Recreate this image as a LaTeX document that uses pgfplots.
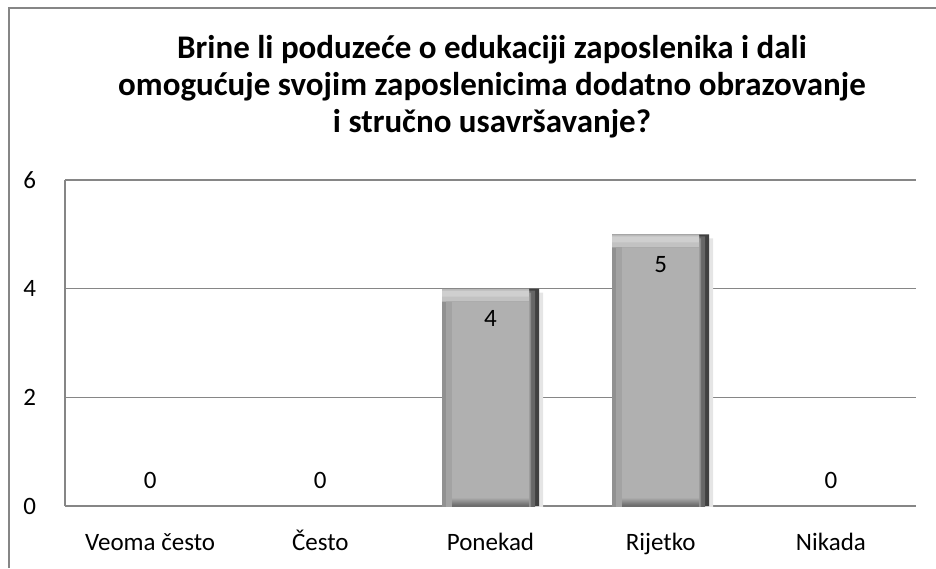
\documentclass[border=0pt]{standalone}
\usepackage{fontspec}
\setmainfont{Carlito}
\usepackage{pgfplots}
\pgfplotsset{compat=1.18}

\definecolor{gridgray}{RGB}{134,134,134}
\definecolor{barface}{RGB}{176,176,176}
\definecolor{bevbot}{RGB}{110,110,110}
\pgfdeclareverticalshading{facesh}{100bp}{color(0bp)=(bevbot); color(27.6bp)=(bevbot); color(29bp)=(barface); color(100bp)=(barface)}

\pgfplotstableread{
x y
2 4
3 5
}\bars
\pgfplotstableread{
x y
0 0
1 0
4 0
}\zeros

\begin{document}
\begin{tikzpicture}
\useasboundingbox (0,0) rectangle (468pt,-284pt);
\draw[gridgray, line width=0.9pt] (4.5pt,-284pt) -- (4.5pt,-4pt) -- (468pt,-4pt);
\node[font=\fontsize{16.5}{18.5}\selectfont\bfseries, align=center] at (246pt,-43.5pt)
  {Brine li poduzeće o edukaciji zaposlenika i dali\\
   omogućuje svojim zaposlenicima dodatno obrazovanje\\
   i stručno usavršavanje?};
\begin{axis}[
  at={(32.5pt,-253pt)}, anchor=south west,
  scale only axis, width=425.5pt, height=163pt,
  xmin=-0.5, xmax=4.5, ymin=0, ymax=6,
  xtick={0,1,2,3,4},
  xticklabels={Veoma često, Često, Ponekad, Rijetko, Nikada},
  ytick={0,2,4,6},
  axis x line*=bottom, axis y line*=left,
  axis line style={gridgray, line width=0.6pt, -},
  ymajorgrids, grid style={gridgray, line width=0.6pt},
  major tick length=0pt,
  ticklabel style={font=\fontsize{12.5}{14}\selectfont},
  yticklabel style={xshift=-11pt},
  xticklabel style={anchor=base, yshift=-22pt},
  /pgf/number format/assume math mode=true,
  ybar, bar width=48.5pt,
  every node near coord/.append style={font=\fontsize{12.5}{14}\selectfont, anchor=center, text=black},
]
% soft shadow
\addplot[fill=black!10, draw=none, bar shift=2pt, yshift=-2pt] table[x=x,y=y]{\bars};
% right edge (dark)
\addplot[fill=black!75, draw=none, bar shift=0pt] table[x=x,y=y]{\bars};
\addplot[fill=black!60, draw=none, bar shift=-1pt, bar width=46.5pt, yshift=-1pt] table[x=x,y=y]{\bars};
\addplot[fill=black!46, draw=none, bar shift=-2pt, bar width=44.5pt, yshift=-2pt] table[x=x,y=y]{\bars};
% top edge (light)
\addplot[fill=black!27, draw=none, bar shift=-2.5pt, bar width=43.5pt] table[x=x,y=y]{\bars};
\addplot[fill=black!19, draw=none, bar shift=-2.5pt, bar width=43.5pt, yshift=-1pt] table[x=x,y=y]{\bars};
\addplot[fill=black!24, draw=none, bar shift=-2.5pt, bar width=43.5pt, yshift=-4pt] table[x=x,y=y]{\bars};
% left edge
\addplot[fill=black!43, draw=none, bar shift=-2.5pt, bar width=43.5pt, yshift=-6.5pt] table[x=x,y=y]{\bars};
\addplot[fill=black!36, draw=none, bar shift=-1.5pt, bar width=41.5pt, yshift=-6.5pt] table[x=x,y=y]{\bars};
% face
\addplot[shade, shading=facesh, draw=none, bar shift=0pt, bar width=38.5pt, yshift=-6.5pt] table[x=x,y=y]{\bars};
% data labels
\addplot[draw=none, fill=none, bar shift=0pt, nodes near coords,
  every node near coord/.append style={yshift=-15pt}] table[x=x,y=y]{\bars};
\addplot[draw=none, fill=none, bar shift=0pt, nodes near coords,
  every node near coord/.append style={yshift=13pt}] table[x=x,y=y]{\zeros};
\end{axis}
\end{tikzpicture}
\end{document}
